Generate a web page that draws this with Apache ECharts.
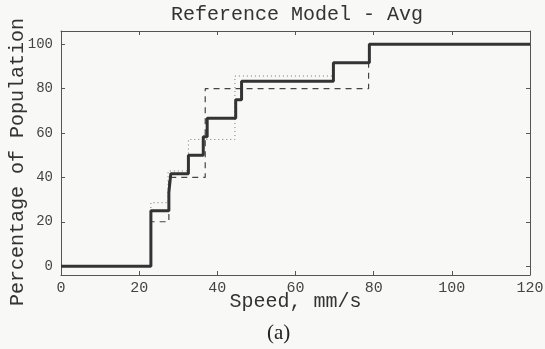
<!DOCTYPE html>
<html>
<head>
<meta charset="utf-8">
<script src="https://cdn.jsdelivr.net/npm/echarts@6/dist/echarts.min.js"></script>
<style>
  html, body { margin: 0; padding: 0; background: #f8f8f6; }
  #chart { width: 545px; height: 349px; }
</style>
</head>
<body>
<div id="chart"></div>
<script>
// Cumulative speed distributions (percentage of population at or below a speed)
const pctTicks = [0, 20, 40, 60, 80, 100];

// Reference model, averaged (thick solid)
const avgSpeed = [0, 23.0, 27.6, 28.1, 32.6, 36.4, 37.4, 44.7, 46.2, 69.7, 78.9, 120];
const avgPct   = [0, 25.0, 33.3, 41.7, 50.0, 58.3, 66.7, 75.0, 83.3, 91.7, 100, 100];

// Dashed comparison curve
const dashSpeed = [0, 23.0, 27.6, 36.9, 78.7, 120];
const dashPct   = [0, 20, 40, 80, 100, 100];

// Dotted comparison curve
const dotSpeed = [0, 23.0, 27.4, 32.6, 44.5, 69.7, 78.9, 120];
const dotPct   = [0, 28.6, 42.9, 57.1, 85.7, 91.7, 100, 100];

const pairs = (xs, ys) => xs.map((x, i) => [x, ys[i]]);

const mono = '"Liberation Mono", "DejaVu Sans Mono", monospace';
const frame = { lineStyle: { color: '#555', width: 1 } };

const chart = echarts.init(document.getElementById('chart'));
chart.setOption({
  backgroundColor: '#f8f8f6',
  animation: false,
  title: [
    {
      text: 'Reference Model - Avg',
      left: 166, top: 0,
      textStyle: { fontFamily: mono, fontSize: 20, fontWeight: 'normal', color: '#333' }
    },
    {
      text: '(a)',
      left: 262, top: 318,
      textStyle: { fontFamily: '"Liberation Serif", "DejaVu Serif", serif', fontSize: 21, fontWeight: 'normal', color: '#222' }
    }
  ],
  grid: { left: 61, right: 15, top: 31, bottom: 74, containLabel: false, outerBoundsMode: 'none' },
  xAxis: [
    {
      type: 'value', min: 0, max: 120, interval: 20,
      name: 'Speed, mm/s', nameLocation: 'middle', nameGap: 17, nameMoveOverlap: false,
      nameTextStyle: { fontFamily: mono, fontSize: 20, color: '#333' },
      axisLine: { show: true, onZero: false, ...frame },
      axisTick: { inside: true, length: 4, lineStyle: { color: '#555' } },
      axisLabel: { fontFamily: mono, fontSize: 15, color: '#444', margin: 6 },
      splitLine: { show: false }
    },
    {
      type: 'value', min: 0, max: 120, interval: 20, position: 'top',
      axisLine: { show: true, onZero: false, ...frame },
      axisTick: { inside: true, length: 4, lineStyle: { color: '#555' } },
      axisLabel: { show: false },
      splitLine: { show: false }
    }
  ],
  yAxis: [
    {
      type: 'value', min: -4, max: 106,
      name: 'Percentage of Population', nameLocation: 'middle', nameGap: 33, nameMoveOverlap: false,
      nameTextStyle: { fontFamily: mono, fontSize: 20, color: '#333', padding: [0, 18, 0, 0] },
      axisLine: { show: true, onZero: false, ...frame },
      axisTick: { inside: true, length: 4, lineStyle: { color: '#555' }, customValues: pctTicks },
      axisLabel: { fontFamily: mono, fontSize: 14, color: '#444', margin: 8, customValues: pctTicks },
      splitLine: { show: false }
    },
    {
      type: 'value', min: -4, max: 106, position: 'right',
      axisLine: { show: true, onZero: false, ...frame },
      axisTick: { inside: true, length: 4, lineStyle: { color: '#555' }, customValues: pctTicks },
      axisLabel: { show: false },
      splitLine: { show: false }
    }
  ],
  series: [
    {
      type: 'line', step: 'end', symbol: 'none', z: 2,
      data: pairs(dotSpeed, dotPct),
      lineStyle: { color: '#777', width: 1, type: [1, 3] }
    },
    {
      type: 'line', step: 'end', symbol: 'none', z: 3,
      data: pairs(dashSpeed, dashPct),
      lineStyle: { color: '#444', width: 1.2, type: [6, 5] }
    },
    {
      type: 'line', step: 'end', symbol: 'none', z: 4,
      data: pairs(avgSpeed, avgPct),
      lineStyle: { color: '#333', width: 3 }
    }
  ]
});
</script>
</body>
</html>
